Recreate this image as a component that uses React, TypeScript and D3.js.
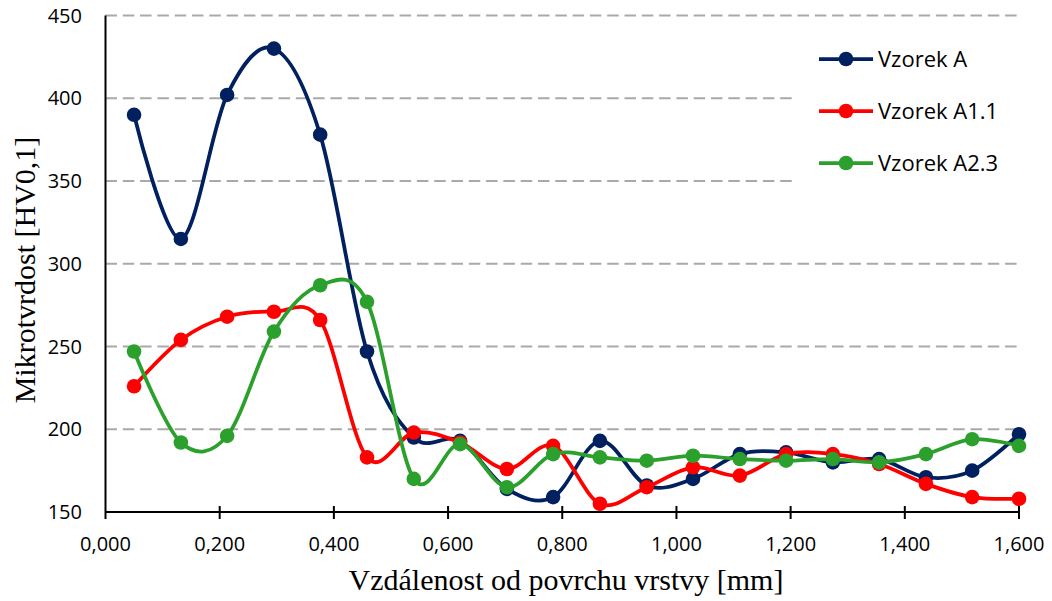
import React from "react";
import * as d3 from "d3";

const xValues = [0.050, 0.132, 0.213, 0.295, 0.376, 0.458, 0.540, 0.621, 0.703, 0.784, 0.866, 0.948, 1.029, 1.111, 1.192, 1.274, 1.355, 1.437, 1.518, 1.600];
const vzorekA = [390, 315, 402, 430, 378, 247, 195, 193, 164, 159, 193, 166, 170, 185, 186, 180, 182, 171, 175, 197];
const vzorekA11 = [226, 254, 268, 271, 266, 183, 198, 192, 176, 190, 155, 165, 177, 172, 185, 185, 179, 167, 159, 158];
const vzorekA23 = [247, 192, 196, 259, 287, 277, 170, 191, 165, 185, 183, 181, 184, 182, 181, 182, 180, 185, 194, 190];
const seriesNames = ["Vzorek A", "Vzorek A1.1", "Vzorek A2.3"];
const seriesColors = ["#002060", "#ff0000", "#2ca02c"];
const xTicks = [0, 0.2, 0.4, 0.6, 0.8, 1.0, 1.2, 1.4, 1.6];
const yTicks = [150, 200, 250, 300, 350, 400, 450];

const W = 1052;
const H = 601;

export default function App() {
  const x = d3.scaleLinear().domain([0, 1.6]).range([105.5, 1019]);
  const y = d3.scaleLinear().domain([150, 450]).range([512, 15.5]);
  const allSeries = [vzorekA, vzorekA11, vzorekA23];
  const line = d3
    .line<[number, number]>()
    .x((d) => x(d[0]))
    .y((d) => y(d[1]))
    .curve(d3.curveCardinal.tension(0));
  const fmt = (v: number) => v.toFixed(3).replace(".", ",");
  const legendX0 = 819;
  const legendX1 = 873;
  const legendYs = [59, 111, 163];

  return (
    <svg
      width={W}
      height={H}
      style={{ position: "absolute", left: 0, top: 0, background: "#fff" }}
    >
      <rect x={0} y={0} width={W} height={H} fill="#fff" />
      {/* gridlines */}
      {yTicks
        .filter((t) => t !== 150)
        .map((t) => (
          <line
            key={"g" + t}
            x1={x(0)}
            x2={x(1.6)}
            y1={y(t)}
            y2={y(t)}
            stroke="#a9a9a9"
            strokeWidth={2.2}
            strokeDasharray="11.5,5.8"
          />
        ))}
      {/* legend background */}
      <rect x={797} y={30} width={240} height={165} fill="#fff" />
      {/* axes */}
      <line x1={x(0)} x2={x(0)} y1={y(450)} y2={519} stroke="#000" strokeWidth={2} />
      <line x1={x(0)} x2={x(1.6)} y1={y(150)} y2={y(150)} stroke="#000" strokeWidth={2} />
      {xTicks
        .filter((t) => t !== 0)
        .map((t) => (
          <line key={"t" + t} x1={x(t)} x2={x(t)} y1={506} y2={519} stroke="#000" strokeWidth={2} />
        ))}
      {/* tick labels */}
      {yTicks.map((t) => (
        <text
          key={"yl" + t}
          x={82}
          y={y(t)}
          dy="0.36em"
          textAnchor="end"
          fontFamily="'Open Sans', sans-serif"
          fontSize={20}
          fill="#000"
        >
          {t}
        </text>
      ))}
      {xTicks.map((t) => (
        <text
          key={"xl" + t}
          x={x(t)}
          y={551}
          textAnchor="middle"
          fontFamily="'Open Sans', sans-serif"
          fontSize={20}
          fill="#000"
        >
          {fmt(t)}
        </text>
      ))}
      {/* axis titles */}
      <text
        x={566}
        y={590}
        textAnchor="middle"
        fontFamily="'Liberation Serif', 'Times New Roman', serif"
        fontSize={30}
        fill="#000"
      >
        Vzdálenost od povrchu vrstvy [mm]
      </text>
      <text
        transform={`translate(35,270) rotate(-90)`}
        textAnchor="middle"
        fontFamily="'Liberation Serif', 'Times New Roman', serif"
        fontSize={30}
        fill="#000"
      >
        Mikrotvrdost [HV0,1]
      </text>
      {/* series */}
      {allSeries.map((vals, si) => {
        const pts: [number, number][] = xValues.map((xv, i) => [xv, vals[i]]);
        return (
          <g key={"s" + si}>
            <path d={line(pts) || ""} fill="none" stroke={seriesColors[si]} strokeWidth={3.75} />
            {pts.map((p, i) => (
              <circle key={i} cx={x(p[0])} cy={y(p[1])} r={7.3} fill={seriesColors[si]} />
            ))}
          </g>
        );
      })}
      {/* legend */}
      {seriesNames.map((name, i) => (
        <g key={"l" + i}>
          <line
            x1={legendX0}
            x2={legendX1}
            y1={legendYs[i]}
            y2={legendYs[i]}
            stroke={seriesColors[i]}
            strokeWidth={3.75}
          />
          <circle cx={(legendX0 + legendX1) / 2} cy={legendYs[i]} r={7.3} fill={seriesColors[i]} />
          <text
            x={878}
            y={legendYs[i]}
            dy="0.36em"
            fontFamily="'Open Sans', sans-serif"
            fontSize={22}
            fill="#000"
          >
            {name}
          </text>
        </g>
      ))}
    </svg>
  );
}
